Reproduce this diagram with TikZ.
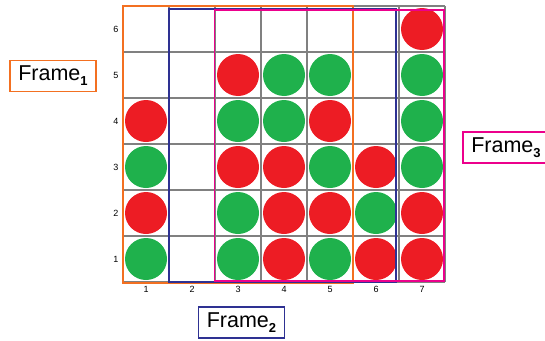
\documentclass[tikz,border=0pt]{standalone}
\usepackage{fontspec}
\setmainfont{Liberation Sans}
\definecolor{cred}{HTML}{ED1C24}
\definecolor{cgreen}{HTML}{1FB14C}
\definecolor{corange}{HTML}{F37021}
\definecolor{cblue}{HTML}{2E3192}
\definecolor{cmag}{HTML}{EC008C}
\definecolor{cgrid}{HTML}{808080}
\newcommand{\framelabel}[1]{\fontsize{21.5}{22}\selectfont Frame\raisebox{-5pt}{\fontsize{13}{13}\selectfont\bfseries #1}}
\begin{document}
\begin{tikzpicture}[x=1pt,y=-1pt,
  disc/.style={circle,minimum size=42pt,inner sep=0pt,draw=none},
  rd/.style={disc,fill=cred},
  gr/.style={disc,fill=cgreen},
  gridline/.style={cgrid,line width=1.2pt},
  axislabel/.style={font=\fontsize{9}{9}\selectfont,inner sep=0pt},
  framebox/.style={line width=1.6pt},
  labelbox/.style={draw,line width=1.6pt,minimum width=86pt,minimum height=31pt,inner sep=0pt}]
\useasboundingbox (0,0) rectangle (545,340);
\clip (0,0) rectangle (545,340);
% grid
\foreach \i in {0,...,7} \draw[gridline] ({123+46*\i},6) -- ({123+46*\i},282);
\foreach \j in {0,...,6} \draw[gridline] (123,{6+46*\j}) -- (445,{6+46*\j});
% axis labels
\foreach \c in {1,...,7} \node[axislabel] (col\c) at ({100+46*\c},289.5) {\c};
\foreach \r in {1,...,6} \node[axislabel] (row\r) at (116,{305-46*\r}) {\r};
% discs: column, row
\foreach \c/\r/\s in {1/1/gr,1/2/rd,1/3/gr,1/4/rd,
  3/1/gr,3/2/gr,3/3/rd,3/4/gr,3/5/rd,
  4/1/rd,4/2/rd,4/3/rd,4/4/gr,4/5/gr,
  5/1/gr,5/2/rd,5/3/gr,5/4/rd,5/5/gr,
  6/1/rd,6/2/gr,6/3/rd,
  7/1/rd,7/2/rd,7/3/gr,7/4/gr,7/5/gr,7/6/rd}
  \node[\s] (d\c\r) at ({100+46*\c},{305-46*\r}) {};
% frames
\draw[framebox,corange] (123,6) rectangle (353,283);
\draw[framebox,cblue] (169,9) rectangle (396,282);
\draw[framebox,cmag] (214.5,10) rectangle (444,281);
% frame labels
\node[labelbox,draw=corange] (f1) at (53,76) {\framelabel{1}};
\node[labelbox,draw=cblue] (f2) at (241.5,322.5) {\framelabel{2}};
\node[labelbox,draw=cmag] (f3) at (506,147.5) {\framelabel{3}};
\end{tikzpicture}
\end{document}
